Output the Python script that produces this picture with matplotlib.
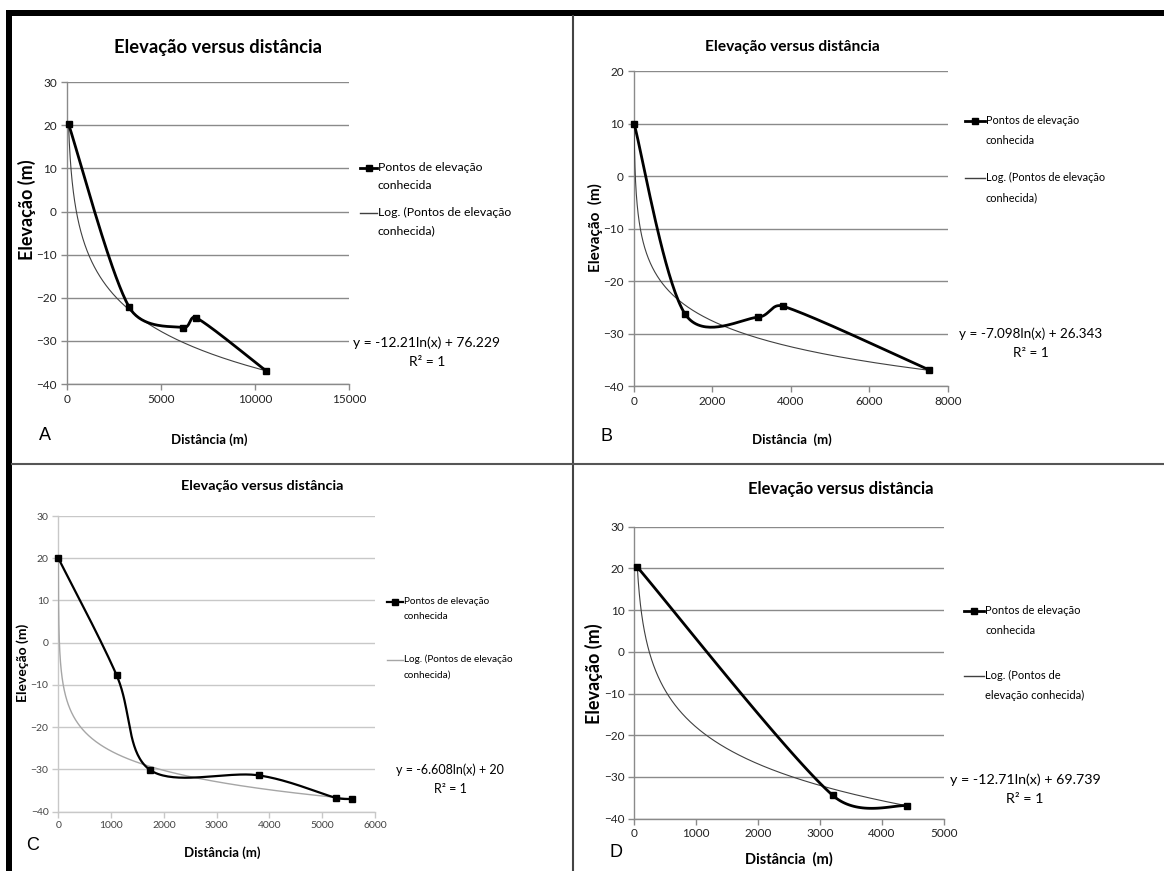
import numpy as np
import matplotlib
matplotlib.use("Agg")
import matplotlib.pyplot as plt
from matplotlib.lines import Line2D

W, H = 1164, 871
plt.rcParams['font.family'] = ['Lato', 'DejaVu Sans']

dist_a = [100, 3310, 6200, 6870, 10580]
elev_a = [20.3, -22.1, -26.9, -24.6, -36.9]
dist_b = [10, 1300, 3160, 3800, 7510]
elev_b = [10.0, -26.2, -26.9, -24.8, -36.9]
dist_c = [1, 1105, 1737, 3800, 5255, 5570]
elev_c = [20.0, -7.7, -30.1, -31.4, -36.7, -37.0]
dist_d = [50, 3206, 4407]
elev_d = [20.3, -34.4, -36.9]

# coeficientes da linha de tendência logarítmica (y = a ln(x) + b)
coef_a = (-12.21, 76.229)
coef_b = (-7.098, 26.343)
coef_c = (-6.608, 20.0)
coef_d = (-12.71, 69.739)

eq_a = "y = -12.21ln(x) + 76.229\nR² = 1"
eq_b = "y = -7.098ln(x) + 26.343\nR² = 1"
eq_c = "y = -6.608ln(x) + 20\nR² = 1"
eq_d = "y = -12.71ln(x) + 69.739\nR² = 1"

titulo = "Elevação versus distância"
leg_pontos = "Pontos de elevação\nconhecida"
leg_log = "Log. (Pontos de elevação\nconhecida)"
leg_log_d = "Log. (Pontos de\nelevação conhecida)"

LIMITE = 0.45  # fração máxima do segmento para os pontos de controle


def fx(x):
    return x / W


def fy(y):
    return 1 - y / H


# curva suavizada no estilo do Excel: Bezier com tangentes Catmull-Rom (1/6),
# limitadas a uma fração do segmento, calculada em pixels
def excel_smooth(xs, ys, kx, ky, n=40):
    p = np.column_stack([np.array(xs) * kx, np.array(ys) * ky]).astype(float)
    ext = np.vstack([p[0], p, p[-1]])
    t = np.linspace(0, 1, n)[:, None]
    out = []
    for i in range(len(p) - 1):
        p0, p1 = ext[i + 1], ext[i + 2]
        seg = np.linalg.norm(p1 - p0)
        d1 = (ext[i + 2] - ext[i]) / 6
        d2 = (ext[i + 3] - ext[i + 1]) / 6
        for d in (d1, d2):
            L = np.linalg.norm(d)
            if L > seg * LIMITE:
                d *= seg * LIMITE / L
        c1 = p0 + d1
        c2 = p1 - d2
        b = (1 - t) ** 3 * p0 + 3 * (1 - t) ** 2 * t * c1 + 3 * (1 - t) * t ** 2 * c2 + t ** 3 * p1
        out.append(b if i == 0 else b[1:])
    out = np.vstack(out)
    return out[:, 0] / kx, out[:, 1] / ky


def painel(box, xs, ys, coef, xlim, xstep, ylim, style):
    x0, x1, ytop, ybot = box
    ax = fig.add_axes([fx(x0), fy(ybot), fx(x1 - x0), (ybot - ytop) / H])
    ax.set_xlim(*xlim)
    ax.set_ylim(*ylim)
    ax.set_xticks(np.arange(xlim[0], xlim[1] + 1, xstep))
    ax.set_yticks(np.arange(ylim[0], ylim[1] + 1, 10))
    for s in ['top', 'right']:
        ax.spines[s].set_visible(False)
    for s in ['left', 'bottom']:
        ax.spines[s].set_color(style['grid'])
        ax.spines[s].set_linewidth(1.0)
    ax.grid(axis='y', color=style['grid'], linewidth=1.0)
    ax.set_axisbelow(True)
    ax.tick_params(colors=style['grid'], length=4, width=1.0, labelsize=style['tick'],
                   labelcolor=style['tickcolor'], pad=style['pad'])
    # tendência logarítmica
    xt = np.geomspace(xs[0], xs[-1], 400)
    ax.plot(xt, coef[0] * np.log(xt) + coef[1], color=style['trend'], lw=style['trend_lw'], zorder=3)
    kx = (x1 - x0) / (xlim[1] - xlim[0])
    ky = (ybot - ytop) / (ylim[1] - ylim[0])
    sx, sy = excel_smooth(xs, ys, kx, ky)
    ax.plot(sx, sy, color='black', lw=style['lw'], zorder=4, clip_on=False)
    ax.plot(xs, ys, 's', color='black', ms=5, zorder=5, clip_on=False)
    return ax


def legenda(hx0, hx1, y1, y2, texts, fs, style, ls):
    fig.add_artist(Line2D([fx(hx0), fx(hx1)], [fy(y1), fy(y1)], color='black', lw=style['lw']))
    fig.add_artist(Line2D([fx((hx0 + hx1) / 2)], [fy(y1)], color='black', marker='s', ms=5, lw=0))
    fig.add_artist(Line2D([fx(hx0), fx(hx1)], [fy(y2), fy(y2)], color=style['trend'], lw=1))
    em = fs * 100 / 72
    for y, txt in ((y1, texts[0]), (y2, texts[1])):
        fig.text(fx(hx1 + 1), fy(y - 0.52 * em), txt, fontsize=fs, va='top', ha='left',
                 linespacing=ls)


fig = plt.figure(figsize=(W / 100, H / 100), dpi=100)

st_abd = dict(grid='#8a8a8a', tick=8.5, tickcolor='#222222', pad=3, trend='#404040', trend_lw=0.8, lw=2.0)
st_c = dict(grid='#c8c8c8', tick=7.5, tickcolor='#444444', pad=3, trend='#a6a6a6', trend_lw=1.0, lw=1.6)

painel((66.7, 349, 82.3, 384), dist_a, elev_a, coef_a, (0, 15000), 5000, (-40, 30), st_abd)
painel((633.7, 948, 71, 386), dist_b, elev_b, coef_b, (0, 8000), 2000, (-40, 20), st_abd)
painel((58.3, 375, 516, 811.7), dist_c, elev_c, coef_c, (0, 6000), 1000, (-40, 30), st_c)
painel((634.3, 943.7, 526.7, 818.7), dist_d, elev_d, coef_d, (0, 5000), 1000, (-40, 30), st_abd)

# títulos
fig.text(fx(218), fy(47), titulo, ha='center', va='center', fontsize=13.2, fontweight='bold')
fig.text(fx(792), fy(47), titulo, ha='center', va='center', fontsize=11.2, fontweight='bold')
fig.text(fx(262), fy(486), titulo, ha='center', va='center', fontsize=10.4, fontweight='bold')
fig.text(fx(841), fy(489), titulo, ha='center', va='center', fontsize=11.9, fontweight='bold')

# rótulos dos eixos
fig.text(fx(27), fy(210), "Elevação (m)", rotation=90, ha='center', va='center', fontsize=13, fontweight='bold')
fig.text(fx(595), fy(228), "Elevação  (m)", rotation=90, ha='center', va='center', fontsize=11, fontweight='bold')
fig.text(fx(23), fy(663), "Eleveção (m)", rotation=90, ha='center', va='center', fontsize=10, fontweight='bold')
fig.text(fx(594), fy(674), "Elevação (m)", rotation=90, ha='center', va='center', fontsize=13, fontweight='bold')
fig.text(fx(209), fy(440), "Distância (m)", ha='center', va='center', fontsize=9.5, fontweight='bold')
fig.text(fx(792), fy(440), "Distância  (m)", ha='center', va='center', fontsize=9.5, fontweight='bold')
fig.text(fx(222), fy(853), "Distância (m)", ha='center', va='center', fontsize=9.5, fontweight='bold')
fig.text(fx(789), fy(859), "Distância  (m)", ha='center', va='center', fontsize=10.5, fontweight='bold')

# letras dos painéis
for letra, x, y in [("A", 45, 435), ("B", 606, 436), ("C", 33, 845), ("D", 616, 852)]:
    fig.text(fx(x), fy(y), letra, ha='center', va='center', fontsize=13,
             family=['Liberation Sans', 'DejaVu Sans'])

# legendas
legenda(360, 377, 168, 213, (leg_pontos, leg_log), 8.8, st_abd, 1.85)
legenda(965, 985, 121, 178, (leg_pontos, leg_log), 7.8, st_abd, 1.95)
legenda(387, 403, 602, 660, (leg_pontos, leg_log), 7.2, st_c, 1.95)
legenda(964, 984, 611, 676, (leg_pontos, leg_log_d), 8.0, st_abd, 1.95)

# equações
fig.text(fx(427), fy(352), eq_a, ha='center', va='center', fontsize=10, linespacing=1.65)
fig.text(fx(1031), fy(343), eq_b, ha='center', va='center', fontsize=9.7, linespacing=1.65)
fig.text(fx(450), fy(779), eq_c, ha='center', va='center', fontsize=9, linespacing=1.75)
fig.text(fx(1025), fy(789), eq_d, ha='center', va='center', fontsize=10.3, linespacing=1.65)

# moldura da figura
fig.add_artist(plt.Rectangle((fx(6), fy(16)), 1, 6 / H, color='black', lw=0))
fig.add_artist(plt.Rectangle((fx(6), 0), 6 / W, fy(10), color='black', lw=0))
fig.add_artist(Line2D([fx(573), fx(573)], [0, fy(16)], color='#444444', lw=1.5))
fig.add_artist(Line2D([fx(12), 1], [fy(464), fy(464)], color='#555555', lw=1.5))

fig.savefig("out.png", dpi=100)
